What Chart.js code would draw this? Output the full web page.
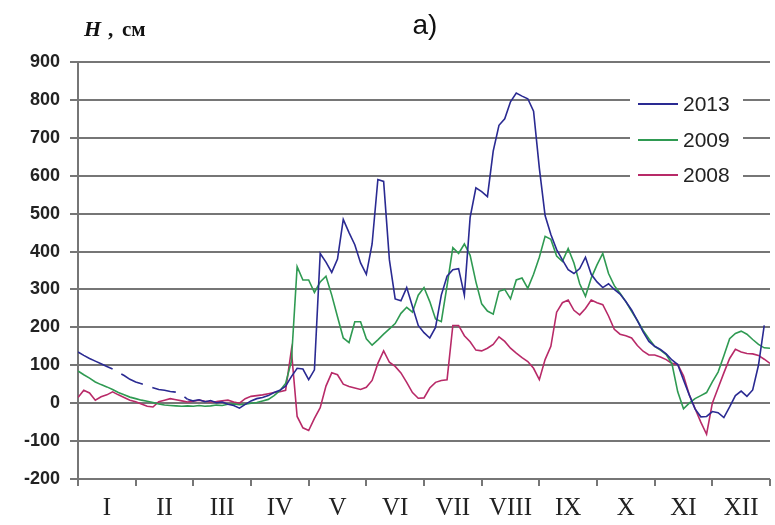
<!DOCTYPE html>
<html>
<head>
<meta charset="utf-8">
<script src="https://cdn.jsdelivr.net/npm/chart.js@4.4.1/dist/chart.umd.min.js"></script>
<style>
  html, body { margin: 0; padding: 0; background: #fff; }
  canvas { display: block; }
</style>
</head>
<body>
<canvas id="levelChart" width="775" height="525"></canvas>
<script>
// Water level H, cm, sampled every 0.1 month (Jan .. Dec)
const monthLabels = ['I', 'II', 'III', 'IV', 'V', 'VI', 'VII', 'VIII', 'IX', 'X', 'XI', 'XII'];
const yTicks = [-200, -100, 0, 100, 200, 300, 400, 500, 600, 700, 800, 900];
const step = 0.1;

const h2013 = [
  135, 126, 118, 111, 104, 97, 90, 81, 73, 63,
  56, 51, 46, 41, 36, 34, 31, 29, 22, 10,
  6, 9, 4, 7, 1, 3, -3, -6, -13, -3,
  6, 12, 15, 20, 28, 34, 45, 70, 92, 90,
  62, 88, 395, 372, 345, 380, 485, 450, 418, 370,
  340, 420, 590, 585, 378, 275, 270, 305, 255, 205,
  186, 172, 200, 285, 335, 352, 355, 285, 490, 568,
  558, 545, 665, 733, 750, 795, 818, 810, 803, 770,
  620, 495, 445, 405, 378, 352, 342, 355, 385, 340,
  320, 305, 315, 300, 288, 268, 246, 218, 188, 163,
  150, 142, 130, 114, 102, 61, 22, -15, -36, -35,
  -22, -25, -38, -10, 20, 32, 18, 35, 100, 205,
  null
];

const h2009 = [
  85, 75, 66, 56, 49, 43, 36, 28, 22, 16,
  12, 8, 5, 2, -2, -5, -6, -7, -8, -7,
  -8, -6, -8, -7, -5, -6, -3, -2, -4, -3,
  0, 2, 6, 10, 20, 33, 52, 110, 360, 325,
  325, 292, 320, 335, 285, 228, 172, 160, 215, 215,
  170, 153, 167, 182, 196, 210, 237, 253, 240, 285,
  305, 268, 222, 215, 310, 410, 395, 420, 390, 320,
  262, 243, 235, 295, 300, 275, 325, 330, 303, 340,
  385, 440, 432, 388, 374, 408, 370, 315, 282, 330,
  365, 395, 342, 310, 290, 268, 242, 218, 192, 170,
  150, 140, 128, 104, 30, -15, 0, 12, 20, 28,
  56, 82, 125, 170, 184, 190, 182, 168, 155, 146,
  145
];

const h2008 = [
  15, 34, 27, 8, 17, 22, 30, 22, 15, 8,
  4, -2, -8, -10, 4, 8, 12, 9, 6, 3,
  5, 8, 5, 3, 4, 6, 8, 3, 0, 12,
  18, 20, 22, 25, 28, 30, 34, 140, -35, -65,
  -72, -40, -12, 45, 80, 75, 50, 44, 40, 36,
  42, 60, 105, 138, 108, 97, 80, 55, 28, 13,
  14, 40, 55, 60, 62, 205, 205, 178, 162, 140,
  138, 145, 155, 175, 163, 145, 132, 120, 110, 92,
  62, 115, 150, 240, 265, 272, 245, 233, 250, 272,
  265, 260, 230, 195, 182, 178, 172, 152, 137, 127,
  127, 122, 115, 105, 102, 72, 22, -14, -50, -82,
  0, 40, 80, 118, 142, 135, 131, 130, 126, 116,
  105
];

const toPoints = vals => vals.map((v, i) => ({ x: +(i * step).toFixed(1), y: v }));

const gridColor = '#767676';

// the 2013 record is interpolated (dashed) through January - February
const gapStart = 0.6;
const gapEnd = 1.9;

// legend box and axis captions drawn straight on the canvas
const captionsPlugin = {
  id: 'captions',
  afterDraw(chart) {
    const c = chart.ctx;
    c.save();

    c.fillStyle = '#111';
    c.textBaseline = 'alphabetic';
    c.textAlign = 'center';
    c.font = '28px "Liberation Sans", Arial, sans-serif';
    c.fillText('а)', 425, 34);

    c.textAlign = 'left';
    c.font = 'italic bold 22px "Liberation Serif", "Times New Roman", serif';
    c.fillText('H', 84, 36);
    c.font = 'bold 21px "Liberation Serif", "Times New Roman", serif';
    c.fillText(',', 108, 36);
    c.fillText('см', 122, 36);

    // legend
    c.fillStyle = '#fff';
    c.fillRect(630, 87, 113, 104);
    const rows = [104, 140, 175];
    chart.data.datasets.forEach((ds, i) => {
      const y = rows[i];
      c.strokeStyle = ds.borderColor;
      c.lineWidth = 2;
      c.beginPath();
      c.moveTo(638, y);
      c.lineTo(678, y);
      c.stroke();
      c.fillStyle = '#222';
      c.font = '21px "Liberation Sans", Arial, sans-serif';
      c.textBaseline = 'middle';
      c.fillText(ds.label, 683, y + 1);
    });
    c.restore();
  }
};

const ctx = document.getElementById('levelChart').getContext('2d');
new Chart(ctx, {
  type: 'line',
  data: {
    datasets: [
      {
        label: '2013',
        data: toPoints(h2013),
        borderColor: '#2a2a92',
        segment: {
          borderDash: s => (s.p0.parsed.x >= gapStart && s.p1.parsed.x <= gapEnd ? [24, 10] : undefined),
          borderDashOffset: s => (s.p0.parsed.x >= gapStart && s.p1.parsed.x <= gapEnd ? 24 : 0)
        }
      },
      {
        label: '2009',
        data: toPoints(h2009),
        borderColor: '#2f9a52'
      },
      {
        label: '2008',
        data: toPoints(h2008),
        borderColor: '#b82a68'
      }
    ]
  },
  options: {
    responsive: false,
    animation: false,
    devicePixelRatio: 1,
    layout: {
      padding: { top: 62, right: 5, left: 0, bottom: 0 }
    },
    elements: {
      point: { radius: 0 },
      line: { borderWidth: 1.6, tension: 0 }
    },
    plugins: {
      legend: { display: false },
      tooltip: { enabled: false },
      title: { display: false }
    },
    scales: {
      x: {
        type: 'linear',
        min: 0,
        max: 12,
        afterBuildTicks: scale => {
          scale.ticks = monthLabels.map((m, i) => ({ value: i + 0.5 }));
        },
        afterFit: scale => { scale.height = 46; },
        ticks: {
          autoSkip: false,
          maxRotation: 0,
          padding: 7,
          color: '#222',
          font: { family: '"Liberation Serif", "Times New Roman", serif', size: 25 },
          callback: (value, index) => monthLabels[index]
        },
        grid: {
          offset: true,
          drawOnChartArea: false,
          drawTicks: true,
          tickLength: 7,
          color: gridColor,
          lineWidth: 2
        },
        border: { display: false }
      },
      y: {
        min: -200,
        max: 900,
        afterBuildTicks: scale => {
          scale.ticks = yTicks.map(v => ({ value: v }));
        },
        afterFit: scale => { scale.width = 78; },
        ticks: {
          padding: 10,
          color: '#222',
          font: { family: '"Liberation Sans", Arial, sans-serif', size: 18, weight: 'bold' }
        },
        grid: {
          color: gridColor,
          lineWidth: 2,
          tickLength: 8
        },
        border: { display: true, color: gridColor, width: 2 }
      }
    }
  },
  plugins: [captionsPlugin]
});
</script>
</body>
</html>
